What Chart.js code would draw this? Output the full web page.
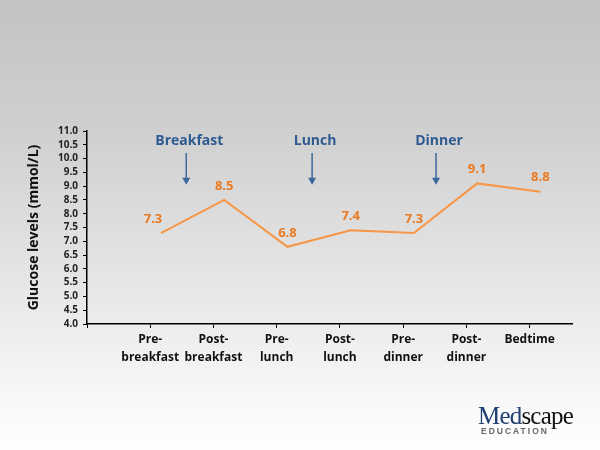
<!DOCTYPE html>
<html>
<head>
<meta charset="utf-8">
<script src="https://cdn.jsdelivr.net/npm/chart.js@4.4.1/dist/chart.umd.min.js"></script>
<style>
  html, body { margin: 0; padding: 0; }
  body {
    width: 600px; height: 450px; overflow: hidden; position: relative;
    background: linear-gradient(to bottom, #c3c3c3 0%, #d0d0d0 30%, #ebebeb 70%, #ffffff 100%);
    font-family: "Open Sans", "DejaVu Sans", sans-serif;
  }
  #glucoseChart { position: absolute; left: 0; top: 0; }
  .logo { position: absolute; left: 478px; top: 403px; line-height: 1; }
  .logo .name { font-family: "Liberation Serif", serif; font-size: 25px; letter-spacing: -0.8px; color: #111; }
  .logo .name span { color: #1f3f73; }
  .logo .edu { font-family: "Liberation Sans", sans-serif; font-weight: bold; font-size: 8.5px; letter-spacing: 2px; color: #666; margin-left: 3px; margin-top: -1px; }
</style>
</head>
<body>
<canvas id="glucoseChart" width="600" height="450"></canvas>
<div class="logo"><div class="name"><span>Med</span>scape</div><div class="edu">EDUCATION</div></div>
<script>
// categories and readings (mmol/L)
const categories = [['Pre-', 'breakfast'], ['Post-', 'breakfast'], ['Pre-', 'lunch'], ['Post-', 'lunch'], ['Pre-', 'dinner'], ['Post-', 'dinner'], ['Bedtime']];
const glucose = [7.3, 8.5, 6.8, 7.4, 7.3, 9.1, 8.8];
const pointShift = 0.17; // points sit a little right of each label

// meal markers: label, position on x axis
const meals = ['Breakfast', 'Lunch', 'Dinner'];
const mealPos = [1.57, 3.56, 5.52];

const yTicks = { min: 4, max: 11, step: 0.5 };

document.addEventListener("DOMContentLoaded", function () {
    const ctx = document.getElementById('glucoseChart').getContext('2d');

    const points = glucose.map((v, i) => ({ x: i + 1 + pointShift, y: v }));

    // text labels above points + meal arrows
    const overlay = {
        id: 'overlay',
        afterDatasetsDraw(chart) {
            const c = chart.ctx;
            const xs = chart.scales.x, ys = chart.scales.y;
            c.save();
            c.font = 'bold 13px "Open Sans", sans-serif';
            c.fillStyle = '#ea7a22';
            c.textAlign = 'center';
            c.textBaseline = 'middle';
            points.forEach((p, i) => {
                const dx = i === 0 ? -8 : 0;
                c.fillText(glucose[i].toFixed(1), xs.getPixelForValue(p.x) + dx, ys.getPixelForValue(p.y) - 14);
            });

            meals.forEach((m, i) => {
                const x = xs.getPixelForValue(mealPos[i]);
                c.font = 'bold 14px "Open Sans", sans-serif';
                c.fillStyle = '#2e5a92';
                c.fillText(m, x + 3, ys.getPixelForValue(10.62));
                const y1 = ys.getPixelForValue(10.2), y2 = ys.getPixelForValue(9.05);
                c.strokeStyle = '#3b679c';
                c.fillStyle = '#3b679c';
                c.lineWidth = 1.5;
                c.beginPath();
                c.moveTo(x, y1);
                c.lineTo(x, y2 - 5);
                c.stroke();
                c.beginPath();
                c.moveTo(x - 4, y2 - 7);
                c.lineTo(x + 4, y2 - 7);
                c.lineTo(x, y2);
                c.closePath();
                c.fill();
            });
            c.restore();
        }
    };

    new Chart(ctx, {
        type: 'line',
        data: {
            datasets: [{
                data: points,
                borderColor: '#f79646',
                borderWidth: 2,
                pointRadius: 0,
                tension: 0
            }]
        },
        options: {
            responsive: false,
            animation: false,
            layout: { padding: { left: 22, top: 131, right: 28, bottom: 0 } },
            plugins: { legend: { display: false }, tooltip: { enabled: false } },
            scales: {
                x: {
                    type: 'linear',
                    min: 0,
                    max: 7.67,
                    afterBuildTicks(scale) {
                        scale.ticks = [0, 1, 2, 3, 4, 5, 6, 7].map(v => ({ value: v }));
                    },
                    afterFit(scale) { scale.height = 126; },
                    ticks: {
                        autoSkip: false,
                        maxRotation: 0,
                        padding: 3,
                        color: '#111',
                        font: { family: '"Open Sans", sans-serif', weight: 'bold', size: 12, lineHeight: 1.45 },
                        callback: v => (v >= 1 && v <= categories.length) ? categories[v - 1] : ''
                    },
                    grid: { drawOnChartArea: false, drawTicks: true, tickLength: 4, color: '#000' },
                    border: { color: '#000', width: 1.5 }
                },
                y: {
                    min: yTicks.min,
                    max: yTicks.max,
                    afterFit(scale) { scale.width = 65; },
                    ticks: {
                        stepSize: yTicks.step,
                        autoSkip: false,
                        padding: 5,
                        color: '#222',
                        font: { family: '"Open Sans", sans-serif', weight: 'bold', size: 10 },
                        callback: v => v.toFixed(1)
                    },
                    grid: { drawOnChartArea: false, drawTicks: true, tickLength: 4, color: '#000' },
                    border: { color: '#000', width: 1.5 },
                    title: {
                        display: true,
                        text: 'Glucose levels (mmol/L)',
                        color: '#111',
                        font: { family: '"Open Sans", sans-serif', weight: 'bold', size: 14 }
                    }
                }
            }
        },
        plugins: [overlay]
    });
});
</script>
</body>
</html>
